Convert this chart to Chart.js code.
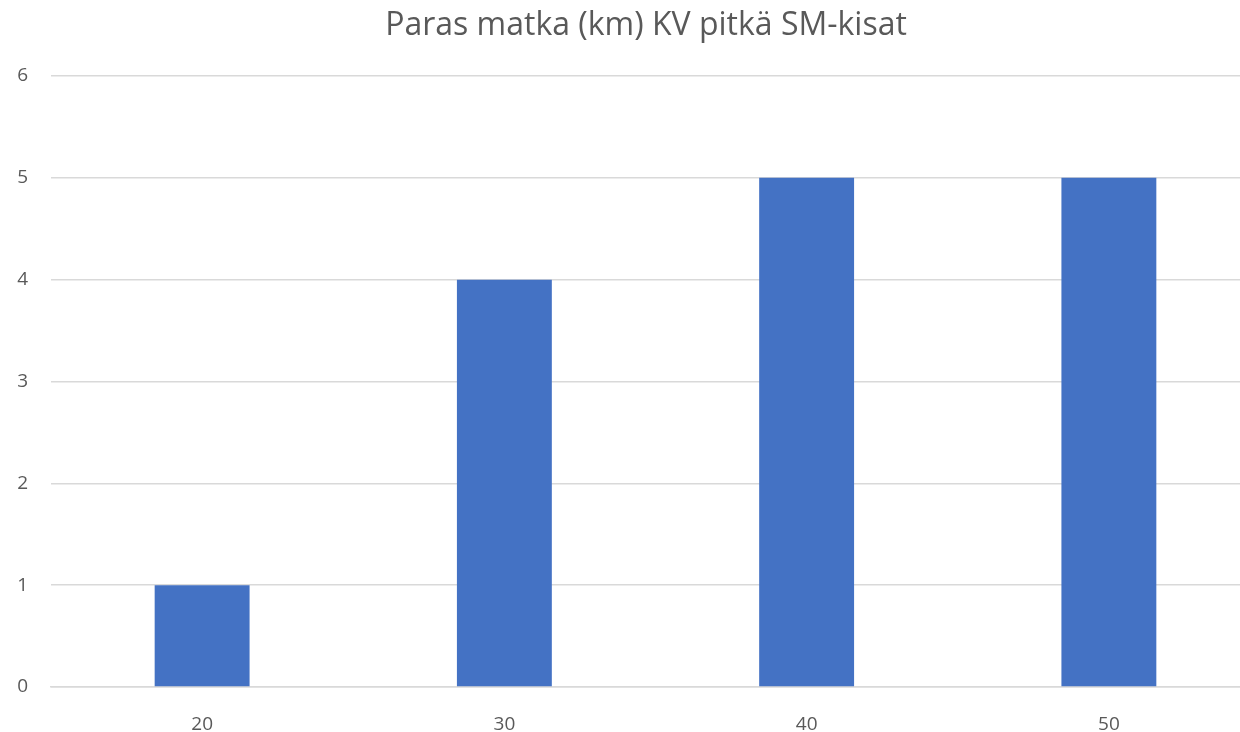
<!DOCTYPE html>
<html>
<head>
<meta charset="utf-8">
<script src="https://cdn.jsdelivr.net/npm/chart.js@4/dist/chart.umd.min.js"></script>
<style>
  html, body { margin: 0; padding: 0; background: #fff; overflow: hidden; }
  #wrap { width: 1260px; height: 732px; }
</style>
</head>
<body>
<div id="wrap"><canvas id="chart"></canvas></div>
<script>
// DATA
const categories = ["20", "30", "40", "50"];
const values = [1, 4, 5, 5];
const y_ticks = [0, 1, 2, 3, 4, 5, 6];
const title_text = "Paras matka (km) KV pitkä SM-kisat";

const text_color = "#595959";
const grid_color = "#d9d9d9";
const bar_color = "#4472c4";

const ctx = document.getElementById("chart").getContext("2d");

new Chart(ctx, {
  type: "bar",
  data: {
    labels: categories,
    datasets: [
      {
        data: values,
        backgroundColor: bar_color,
        borderWidth: 0,
        barPercentage: 0.314,
        categoryPercentage: 1,
      },
    ],
  },
  options: {
    responsive: true,
    maintainAspectRatio: false,
    animation: false,
    layout: { padding: 0 },
    plugins: {
      legend: { display: false },
      tooltip: { enabled: false },
      title: {
        display: true,
        // leading en spaces nudge the title right, like the original
        text: "\u2002\u2002" + title_text,
        color: text_color,
        font: { family: "Open Sans", size: 32, weight: "normal", lineHeight: 1.2 },
        padding: { top: 6.5, bottom: 31.1 },
      },
    },
    scales: {
      x: {
        grid: { display: false },
        border: { display: true, color: grid_color, width: 1.5 },
        ticks: {
          color: text_color,
          font: { family: "Open Sans", size: 19 },
          padding: 18,
        },
        afterFit: (scale) => { scale.height = 45; },
      },
      y: {
        min: y_ticks[0],
        max: y_ticks[y_ticks.length - 1],
        border: { display: false },
        grid: { color: grid_color, lineWidth: 1.5, drawTicks: false },
        ticks: {
          stepSize: 1,
          autoSkip: false,
          color: text_color,
          font: { family: "Open Sans", size: 19 },
          padding: 23,
        },
        afterFit: (scale) => { scale.width = 51; },
      },
    },
  },
});
</script>
</body>
</html>
